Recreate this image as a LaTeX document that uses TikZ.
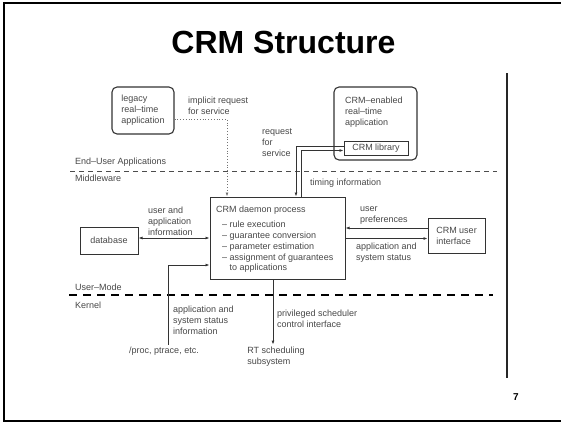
\documentclass[tikz,border=0pt]{standalone}
\usepackage{fontspec}
\setmainfont{Liberation Sans}
\usetikzlibrary{arrows.meta}

\tikzset{
  lbl/.style={font=\fontsize{9}{11}\selectfont, text=black!72, inner sep=0pt, align=left},
  boxtxt/.style={font=\fontsize{9}{11}\selectfont, text=black!72, align=left},
  rbox/.style={draw=black!80, line width=1.1pt, rounded corners=5pt},
  sbox/.style={draw=black!80, line width=1pt},
  conn/.style={draw=black!80, line width=0.8pt},
  tip/.style={-{Latex[length=4pt,width=3pt]}},
  arr/.style={conn, tip},
  darr/.style={conn, {Latex[length=4pt,width=3pt]}-{Latex[length=4pt,width=3pt]}},
  dotarr/.style={draw=black!55, line width=0.8pt, dotted, tip},
  layerline/.style={draw=black!70, line width=0.8pt, dash pattern=on 5pt off 4pt},
  kernelline/.style={draw=black, line width=2.5pt, dash pattern=on 8pt off 6pt},
}

\begin{document}
\begin{tikzpicture}[x=1pt,y=-1pt]
\useasboundingbox (0,0) rectangle (561,424);

% slide frame and side rule
\draw[line width=2.2pt] (565,3) -- (4,3) -- (4,421) -- (565,421);
\draw[line width=1.5pt, black!85] (507,73) -- (507,378);

% title and page number
\node[font=\fontsize{32}{38}\selectfont\bfseries, anchor=base] (title) at (283.5,53) {CRM Structure};
\node[font=\fontsize{10}{12}\selectfont\bfseries, anchor=base] (pagenum) at (516,400) {7};

% layer separators
\coordinate (l1a) at (70,171.5);
\coordinate (l1b) at (497,171.5);
\draw[layerline] (l1a) -- (l1b);
\coordinate (l2a) at (69,295);
\coordinate (l2b) at (493,295);
\draw[kernelline] (l2a) -- (l2b);

\node[lbl, anchor=west] (euapps) at (75,162) {End–User Applications};
\node[lbl, anchor=west] (mw) at (75,178.5) {Middleware};
\node[lbl, anchor=west] (umode) at (75,287) {User–Mode};
\node[lbl, anchor=west] (kern) at (75,305) {Kernel};

% applications
\node[rbox, boxtxt, minimum width=62pt, minimum height=47pt] (legacy) at (143,110.5)
  {legacy\\real–time\\application};
\node[rbox, minimum width=83pt, minimum height=73pt] (crmapp) at (375.5,123.5) {};
\node[lbl, anchor=west] (crmapptext) at (345,112) {CRM–enabled\\real–time\\application};
\node[sbox, boxtxt, minimum width=64pt, minimum height=14pt, inner sep=0pt] (lib) at (376,148) {CRM library};

% middleware
\node[sbox, minimum width=135pt, minimum height=82pt] (daemon) at (277.5,238) {};
\node[lbl, anchor=west] (daemontitle) at (216,210) {CRM daemon process};
\node[lbl, anchor=west, font=\fontsize{9}{10.7}\selectfont] (daemonlist) at (222,247)
  {– rule execution\\– guarantee conversion\\– parameter estimation\\– assignment of guarantees\\\phantom{– }to applications};
\node[sbox, boxtxt, minimum width=58pt, minimum height=27pt] (db) at (109,240.5) {database};
\node[sbox, boxtxt, minimum width=57pt, minimum height=35pt] (ui) at (456.5,235.5) {CRM user\\interface};

% kernel side
\node[lbl, inner sep=2pt] (proc) at (164,351) {/proc, ptrace, etc.};
\node[lbl, inner sep=2pt] (rt) at (276,356.5) {RT scheduling\\subsystem};

% connector labels
\node[lbl, anchor=west] (implbl) at (188,106) {implicit request\\for service};
\node[lbl, anchor=west] (reqlbl) at (262,143) {request\\for\\service};
\node[lbl, anchor=west] (timlbl) at (310,183) {timing information};
\node[lbl, anchor=west] (uailbl) at (148,221) {user and\\application\\information};
\node[lbl, anchor=west] (preflbl) at (360,215.5) {user\\preferences};
\node[lbl, anchor=west] (statlbl) at (356,252.5) {application and\\system status};
\node[lbl, anchor=west] (syslbl) at (173,320) {application and\\system status\\information};
\node[lbl, anchor=west] (privlbl) at (277,319) {privileged scheduler\\control interface};

% connectors
\coordinate (yImp) at (0,119);
\coordinate (xImp) at (227,0);
\draw[dotarr] (legacy.east |- yImp) -| (daemon.north -| xImp);

\coordinate (yReq) at (0,146);
\coordinate (xReq) at (296,0);
\draw[arr] (lib.west |- yReq) -| (daemon.north -| xReq);
\coordinate (yTim) at (0,150.5);
\coordinate (xTim) at (301,0);
\draw[arr] (daemon.north -| xTim) |- (lib.west |- yTim);

\coordinate (yDb) at (0,238);
\draw[darr] (db.east |- yDb) -- (daemon.west |- yDb);

\coordinate (xProc) at (168,0);
\coordinate (yProc) at (0,265);
\draw[arr] (proc.north -| xProc) |- (daemon.west |- yProc);

\coordinate (yPref) at (0,228);
\draw[arr] (ui.west |- yPref) -- (daemon.east |- yPref);
\coordinate (yStat) at (0,238.5);
\draw[arr] (daemon.east |- yStat) -- (ui.west |- yStat);

\coordinate (xRt) at (273,0);
\draw[arr] (daemon.south -| xRt) -- (rt.north -| xRt);

\end{tikzpicture}
\end{document}
